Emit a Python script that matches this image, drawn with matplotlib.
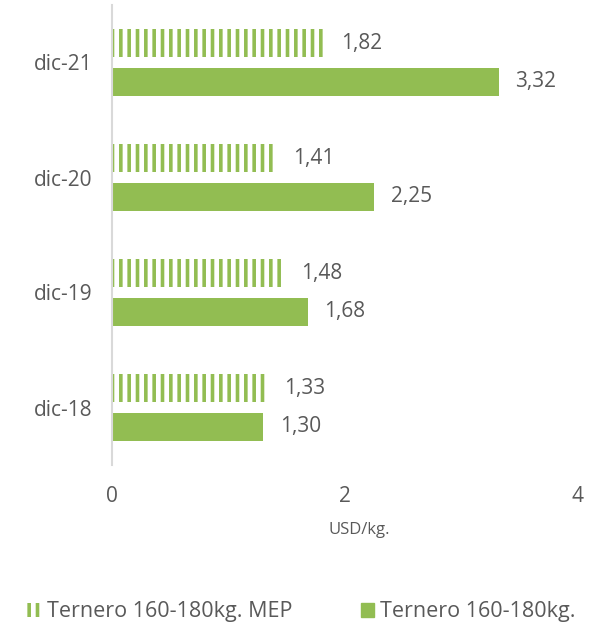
import matplotlib.pyplot as plt
import numpy as np
from matplotlib.patches import Patch

periods = ["dic-18", "dic-19", "dic-20", "dic-21"]
mep_values = [1.33, 1.48, 1.41, 1.82]
official_values = [1.30, 1.68, 2.25, 3.32]
series_names = ["Ternero 160-180kg. MEP", "Ternero 160-180kg."]

GREEN = "#92bd52"
TEXT = "#595959"

plt.rcParams["font.family"] = ["Open Sans", "DejaVu Sans"]
plt.rcParams["hatch.linewidth"] = 2.6

fig = plt.figure(figsize=(6.03, 6.29), dpi=100)
ax = fig.add_axes([112 / 603, 1 - 465 / 629, (578 - 112) / 603, 460 / 629])

y = np.arange(len(periods))
h = 0.24
off = 0.168

mep_bars = ax.barh(y + off, mep_values, height=h, facecolor="white",
                   edgecolor=GREEN, hatch="||", linewidth=0)
off_bars = ax.barh(y - off, official_values, height=h, color=GREEN)

ax.bar_label(mep_bars, labels=[f"{v:.2f}".replace(".", ",") for v in mep_values],
             padding=12, fontsize=15, color=TEXT)
ax.bar_label(off_bars, labels=[f"{v:.2f}".replace(".", ",") for v in official_values],
             padding=12, fontsize=15, color=TEXT)

ax.set_xlim(0, 4)
ax.set_ylim(-0.5, 3.5)
ax.set_yticks(y)
ax.set_yticklabels(periods)
ax.set_xticks([0, 2, 4])
ax.tick_params(axis="both", length=0, labelsize=15, labelcolor=TEXT)
ax.tick_params(axis="x", pad=15)
ax.tick_params(axis="y", pad=14)
ax.set_xlabel("USD/kg.", fontsize=12, color=TEXT)
ax.xaxis.set_label_coords(0.53, -0.125)

for side in ["top", "right", "bottom"]:
    ax.spines[side].set_visible(False)
ax.spines["left"].set_color("#d9d9d9")
ax.spines["left"].set_linewidth(1.5)

handles = [
    Patch(facecolor="white", edgecolor=GREEN, hatch="||", linewidth=0),
    Patch(facecolor=GREEN, edgecolor=GREEN),
]
fig.legend(handles, series_names, loc="center", bbox_to_anchor=(0.5, 1 - 612 / 629),
           ncol=2, frameon=False, fontsize=15.5, labelcolor=TEXT,
           handlelength=0.6, handleheight=0.6, handletextpad=0.3, columnspacing=3.2)

fig.savefig("out.png", dpi=100, facecolor="white")
